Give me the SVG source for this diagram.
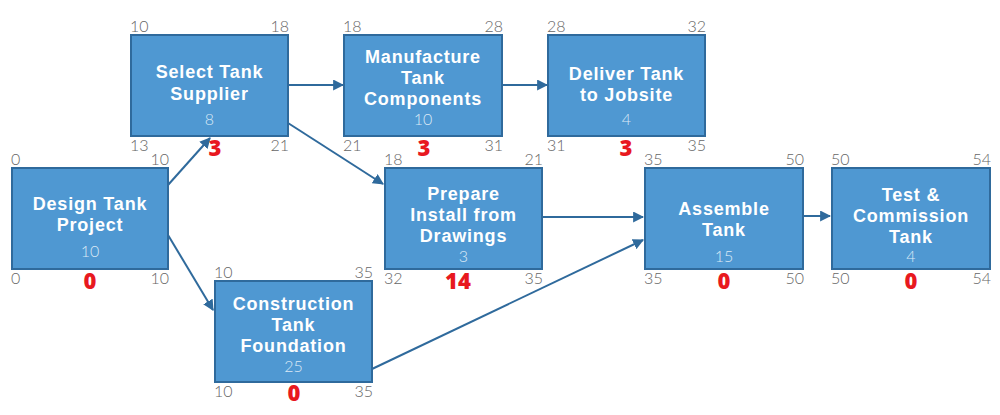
<svg xmlns="http://www.w3.org/2000/svg" width="1000" height="415" viewBox="0 0 1000 415">
<defs>
<style>
.box{fill:#4f98d2;stroke:#2f6a9c;stroke-width:2}
.t{font-family:"Liberation Sans",Arial,sans-serif;font-weight:bold;font-size:18px;letter-spacing:0.8px;fill:#ffffff;text-anchor:middle}
.d{font-family:"Lato","Liberation Sans",sans-serif;font-weight:300;font-size:16px;fill:#dbe9f6;text-anchor:middle}
.n{font-family:"Lato","Liberation Sans",sans-serif;font-weight:300;font-size:16px;fill:#666666}
.r{text-anchor:end}
.s{font-family:"Open Sans","Liberation Sans",sans-serif;font-weight:800;font-size:22px;fill:#e8191f;text-anchor:middle}
.c{fill:none;stroke:#2f6a9c;stroke-width:2}
</style>
<marker id="ah" viewBox="0 0 10 10" refX="9" refY="5" markerWidth="5.5" markerHeight="5.5" orient="auto" markerUnits="strokeWidth">
<path d="M0,0 L10,5 L0,10 z" fill="#2f6a9c"/>
</marker>
</defs>
<g id="connectors">
<line class="c" x1="168" y1="185" x2="210" y2="138" marker-end="url(#ah)"/>
<line class="c" x1="168" y1="235" x2="213" y2="310" marker-end="url(#ah)"/>
<line class="c" x1="288" y1="85" x2="343" y2="85" marker-end="url(#ah)"/>
<line class="c" x1="502" y1="85" x2="547" y2="85" marker-end="url(#ah)"/>
<line class="c" x1="288" y1="123" x2="383" y2="184" marker-end="url(#ah)"/>
<line class="c" x1="542" y1="217" x2="643" y2="217" marker-end="url(#ah)"/>
<line class="c" x1="372" y1="369" x2="643" y2="240" marker-end="url(#ah)"/>
<line class="c" x1="803" y1="216" x2="830" y2="216" marker-end="url(#ah)"/>
</g>
<g id="design">
<rect class="box" x="12" y="168" width="156" height="101"/>
<text class="t" x="90" y="210">Design Tank</text>
<text class="t" x="90" y="231">Project</text>
<text class="d" x="90" y="257">10</text>
<text class="n" x="11" y="165">0</text>
<text class="n r" x="169" y="165">10</text>
<text class="n" x="11" y="284">0</text>
<text class="n r" x="169" y="284">10</text>
<text class="s" x="90" y="289">0</text>
</g>
<g id="select">
<rect class="box" x="131" y="35" width="157" height="101"/>
<text class="t" x="209.5" y="78">Select Tank</text>
<text class="t" x="209.5" y="100">Supplier</text>
<text class="d" x="209.5" y="125">8</text>
<text class="n" x="130" y="32">10</text>
<text class="n r" x="289" y="32">18</text>
<text class="n" x="130" y="151">13</text>
<text class="n r" x="289" y="151">21</text>
<text class="s" x="215" y="156">3</text>
</g>
<g id="manufacture">
<rect class="box" x="344" y="35" width="158" height="101"/>
<text class="t" x="423" y="63">Manufacture</text>
<text class="t" x="423" y="84">Tank</text>
<text class="t" x="423" y="105">Components</text>
<text class="d" x="423" y="125">10</text>
<text class="n" x="343" y="32">18</text>
<text class="n r" x="503" y="32">28</text>
<text class="n" x="343" y="151">21</text>
<text class="n r" x="503" y="151">31</text>
<text class="s" x="424" y="156">3</text>
</g>
<g id="deliver">
<rect class="box" x="548" y="35" width="157" height="101"/>
<text class="t" x="626.5" y="80">Deliver Tank</text>
<text class="t" x="626.5" y="101">to Jobsite</text>
<text class="d" x="626.5" y="125">4</text>
<text class="n" x="547" y="32">28</text>
<text class="n r" x="706" y="32">32</text>
<text class="n" x="547" y="151">31</text>
<text class="n r" x="706" y="151">35</text>
<text class="s" x="626" y="156">3</text>
</g>
<g id="prepare">
<rect class="box" x="385" y="168" width="157" height="101"/>
<text class="t" x="463.5" y="200">Prepare</text>
<text class="t" x="463.5" y="221">Install from</text>
<text class="t" x="463.5" y="242">Drawings</text>
<text class="d" x="463.5" y="262">3</text>
<text class="n" x="384" y="165">18</text>
<text class="n r" x="543" y="165">21</text>
<text class="n" x="384" y="284">32</text>
<text class="n r" x="543" y="284">35</text>
<text class="s" x="458" y="289">14</text>
</g>
<g id="construction">
<rect class="box" x="215" y="281" width="157" height="101"/>
<text class="t" x="293.5" y="310">Construction</text>
<text class="t" x="293.5" y="331">Tank</text>
<text class="t" x="293.5" y="352">Foundation</text>
<text class="d" x="293.5" y="372">25</text>
<text class="n" x="214" y="278">10</text>
<text class="n r" x="373" y="278">35</text>
<text class="n" x="214" y="397">10</text>
<text class="n r" x="373" y="397">35</text>
<text class="s" x="294" y="401">0</text>
</g>
<g id="assemble">
<rect class="box" x="645" y="168" width="158" height="101"/>
<text class="t" x="724" y="215">Assemble</text>
<text class="t" x="724" y="236">Tank</text>
<text class="d" x="724" y="262">15</text>
<text class="n" x="644" y="165">35</text>
<text class="n r" x="804" y="165">50</text>
<text class="n" x="644" y="284">35</text>
<text class="n r" x="804" y="284">50</text>
<text class="s" x="724" y="289">0</text>
</g>
<g id="test">
<rect class="box" x="832" y="168" width="158" height="101"/>
<text class="t" x="911" y="201">Test &amp;</text>
<text class="t" x="911" y="222">Commission</text>
<text class="t" x="911" y="243">Tank</text>
<text class="d" x="911" y="262">4</text>
<text class="n" x="831" y="165">50</text>
<text class="n r" x="991" y="165">54</text>
<text class="n" x="831" y="284">50</text>
<text class="n r" x="991" y="284">54</text>
<text class="s" x="911" y="289">0</text>
</g>
</svg>
